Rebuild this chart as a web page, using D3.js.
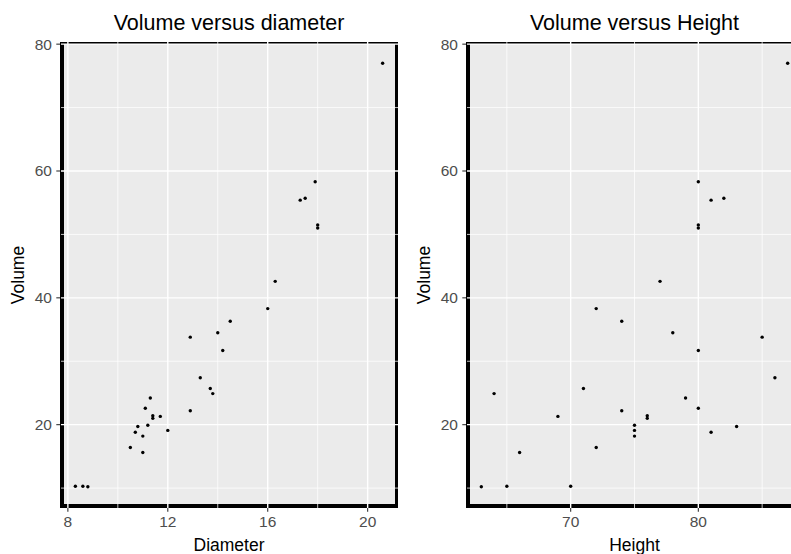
<!DOCTYPE html>
<html lang="en">
<head>
    <meta charset="UTF-8">
    <title>Trees</title>
    <script src="https://d3js.org/d3.v7.min.js"></script>
    <style>
        body { margin: 0; background: #fff; }
        text { font-family: 'Liberation Sans', Arial, sans-serif; }
    </style>
</head>
<body>
<script>
    const width  = 791;
    const height = 554;

    // R trees dataset
    const girth  = [8.3, 8.6, 8.8, 10.5, 10.7, 10.8, 11.0, 11.0, 11.1, 11.2, 11.3, 11.4, 11.4, 11.7, 12.0,
                    12.9, 12.9, 13.3, 13.7, 13.8, 14.0, 14.2, 14.5, 16.0, 16.3, 17.3, 17.5, 17.9, 18.0, 18.0, 20.6];
    const treeHeight = [70, 65, 63, 72, 81, 83, 66, 75, 80, 75, 79, 76, 76, 69, 75,
                    74, 85, 86, 71, 64, 78, 80, 74, 72, 77, 81, 82, 80, 80, 80, 87];
    const volume = [10.3, 10.3, 10.2, 16.4, 18.8, 19.7, 15.6, 18.2, 22.6, 19.9, 24.2, 21.0, 21.4, 21.3, 19.1,
                    22.2, 33.8, 27.4, 25.7, 24.9, 34.5, 31.7, 36.3, 38.3, 42.6, 55.4, 55.7, 58.3, 51.5, 51.0, 77.0];

    const xTicksDiameter = [8, 12, 16, 20];
    const xMinorDiameter = [10, 14, 18];
    const xTicksHeight   = [70, 80];
    const xMinorHeight   = [65, 75, 85];
    const yTicks = [20, 40, 60, 80];
    const yMinor = [10, 30, 50, 70];

    const panelTop = 42, panelBottom = 508;

    const svg = d3.select("body").append("svg")
            .attr("width", width).attr("height", height);

    // ggplot style 5% expansion of the data range
    function expand(values) {
        const [lo, hi] = d3.extent(values);
        const pad = (hi - lo) * 0.05;
        return [lo - pad, hi + pad];
    }

    const scaleY = d3.scaleLinear().domain(expand(volume)).range([panelBottom, panelTop]);

    draw(girth, "Volume versus diameter", "Diameter", xTicksDiameter, xMinorDiameter, 60, 398);
    draw(treeHeight, "Volume versus Height", "Height", xTicksHeight, xMinorHeight, 466, 803);

    function draw(xs, title, xLabel, xTicks, xMinor, left, right) {
        const scaleX = d3.scaleLinear().domain(expand(xs)).range([left, right]);
        const g = svg.append("g");

        g.append("rect")
                .attr("x", left).attr("y", panelTop)
                .attr("width", right - left).attr("height", panelBottom - panelTop)
                .attr("fill", "#EBEBEB");

        // thick black frame (grid lines sit over it)
        const frame = [
            [left + 2, panelTop, left + 2, panelBottom, 4],
            [left, panelTop + 1, right, panelTop + 1, 2],
            [right - 1.5, panelTop, right - 1.5, panelBottom, 3],
            [left, panelBottom - 2, right, panelBottom - 2, 4]
        ];
        g.selectAll(".frame").data(frame).enter()
                .append("line").attr("class", "frame")
                .attr("x1", d => d[0]).attr("y1", d => d[1])
                .attr("x2", d => d[2]).attr("y2", d => d[3])
                .attr("stroke", "black").attr("stroke-width", d => d[4]);

        g.selectAll(".minorx").data(xMinor).enter()
                .append("line").attr("class", "minorx")
                .attr("x1", d => scaleX(d)).attr("x2", d => scaleX(d))
                .attr("y1", panelTop).attr("y2", panelBottom)
                .attr("stroke", "white").attr("stroke-width", 0.75);
        g.selectAll(".minory").data(yMinor).enter()
                .append("line").attr("class", "minory")
                .attr("y1", d => scaleY(d)).attr("y2", d => scaleY(d))
                .attr("x1", left + 1).attr("x2", right)
                .attr("stroke", "white").attr("stroke-width", 0.75);
        g.selectAll(".majorx").data(xTicks).enter()
                .append("line").attr("class", "majorx")
                .attr("x1", d => scaleX(d)).attr("x2", d => scaleX(d))
                .attr("y1", panelTop).attr("y2", panelBottom)
                .attr("stroke", "white").attr("stroke-width", 1.4);
        g.selectAll(".majory").data(yTicks).enter()
                .append("line").attr("class", "majory")
                .attr("y1", d => scaleY(d)).attr("y2", d => scaleY(d))
                .attr("x1", left + 1).attr("x2", right)
                .attr("stroke", "white").attr("stroke-width", 1.4);

        // tick marks and labels
        g.selectAll(".tickx").data(xTicks).enter()
                .append("line").attr("class", "tickx")
                .attr("x1", d => scaleX(d)).attr("x2", d => scaleX(d))
                .attr("y1", panelBottom).attr("y2", panelBottom + 3.7)
                .attr("stroke", "#333333").attr("stroke-width", 1.1);
        g.selectAll(".labelx").data(xTicks).enter()
                .append("text").attr("class", "labelx")
                .text(d => d)
                .attr("x", d => scaleX(d)).attr("y", 527)
                .attr("text-anchor", "middle")
                .attr("font-size", 15.5).attr("fill", "#4D4D4D");
        g.selectAll(".ticky").data(yTicks).enter()
                .append("line").attr("class", "ticky")
                .attr("y1", d => scaleY(d)).attr("y2", d => scaleY(d))
                .attr("x1", left - 3.7).attr("x2", left)
                .attr("stroke", "#333333").attr("stroke-width", 1.1);
        g.selectAll(".labely").data(yTicks).enter()
                .append("text").attr("class", "labely")
                .text(d => d)
                .attr("x", left - 8).attr("y", d => scaleY(d) + 5.5)
                .attr("text-anchor", "end")
                .attr("font-size", 15.5).attr("fill", "#4D4D4D");

        g.selectAll(".point").data(xs).enter()
                .append("circle").attr("class", "point")
                .attr("cx", d => scaleX(d))
                .attr("cy", (d, i) => scaleY(volume[i]))
                .attr("r", 1.7)
                .attr("fill", "black");

        g.append("text")
                .text(title)
                .attr("x", (left + right) / 2).attr("y", 29.5)
                .attr("text-anchor", "middle")
                .attr("font-size", 21.5).attr("fill", "black");
        g.append("text")
                .text(xLabel)
                .attr("x", (left + right) / 2).attr("y", 551)
                .attr("text-anchor", "middle")
                .attr("font-size", 17.5).attr("fill", "black");
        g.append("text")
                .text("Volume")
                .attr("transform", "translate(" + [left - 36, (panelTop + panelBottom) / 2] + ") rotate(-90)")
                .attr("text-anchor", "middle")
                .attr("font-size", 17.5).attr("fill", "black");
    }
</script>
</body>
</html>
